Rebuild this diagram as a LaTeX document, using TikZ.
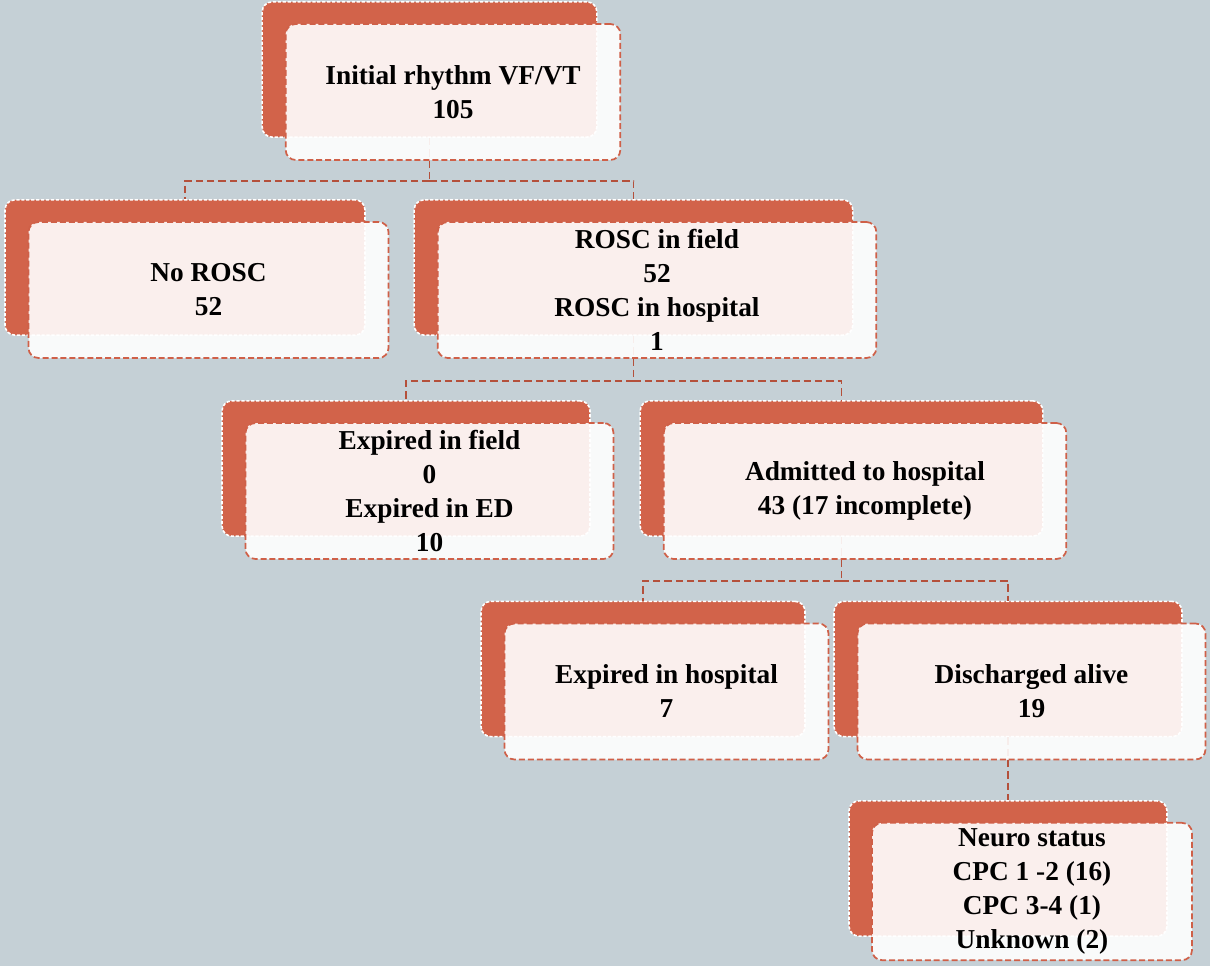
\documentclass[tikz,border=0pt]{standalone}
\usepackage{fontspec}
\setmainfont{Liberation Serif}
\usetikzlibrary{calc}
\definecolor{bgc}{HTML}{C5D0D6}
\definecolor{backc}{HTML}{D2634A}
\definecolor{edgec}{HTML}{CF6048}
\definecolor{connc}{HTML}{B4503B}
\tikzset{
  backbox/.style={draw=white, line width=1.2pt, dash pattern=on 2.4pt off 1.3pt, fill=backc, rounded corners=7.5pt, minimum height=101.5pt, inner sep=0pt},
  frontbox/.style={draw=edgec, line width=1.3pt, dash pattern=on 4.5pt off 2.2pt, fill=white, fill opacity=0.9, text opacity=1, rounded corners=7.5pt, minimum height=102pt, inner sep=0pt, align=center, font=\bfseries\fontsize{20.5}{25.5}\selectfont},
  conn/.style={draw=connc, line width=1.4pt, dash pattern=on 5.5pt off 3pt},
}
\begin{document}
\begin{tikzpicture}[x=0.75pt,y=-0.75pt]
\useasboundingbox[fill=bgc] (0,0) rectangle (1210,966);
% back boxes
\node[backbox, minimum width=251pt] (b1) at (429.5,69.5) {};
\node[backbox, minimum width=270pt] (b2) at (185,267.5) {};
\node[backbox, minimum width=329pt] (b3) at (633.5,267.5) {};
\node[backbox, minimum width=276pt] (b4) at (406,468.5) {};
\node[backbox, minimum width=302pt] (b5) at (841.5,468.5) {};
\node[backbox, minimum width=243pt] (b6) at (643,669) {};
\node[backbox, minimum width=261pt] (b7) at (1008,669) {};
\node[backbox, minimum width=238.5pt] (b8) at (1008,868.5) {};
% connectors
\draw[conn] (b1.south) -- ++(0,43) coordinate (j1);
\draw[conn] (j1) -| (b2.north);
\draw[conn] (j1) -| (b3.north);
\draw[conn] (b3.south) -- ++(0,45) coordinate (j2);
\draw[conn] (j2) -| (b4.north);
\draw[conn] (j2) -| (b5.north);
\draw[conn] (b5.south) -- ++(0,44) coordinate (j3);
\draw[conn] (j3) -| (b6.north);
\draw[conn] (j3) -| (b7.north);
\draw[conn] (b7.south) -- (b8.north);
% front boxes
\node[frontbox, minimum width=251pt] (f1) at ($(b1)+(23.5,22.5)$) {Initial rhythm VF/VT\\105};
\node[frontbox, minimum width=270pt] (f2) at ($(b2)+(23.5,22.5)$) {No ROSC\\52};
\node[frontbox, minimum width=329pt] (f3) at ($(b3)+(23.5,22.5)$) {ROSC in field\\52\\ROSC in hospital\\1};
\node[frontbox, minimum width=276pt] (f4) at ($(b4)+(23.5,22.5)$) {Expired in field\\0\\Expired in ED\\10};
\node[frontbox, minimum width=302pt] (f5) at ($(b5)+(23.5,22.5)$) {Admitted to hospital\\43 (17 incomplete)};
\node[frontbox, minimum width=243pt] (f6) at ($(b6)+(23.5,22.5)$) {Expired in hospital\\7};
\node[frontbox, minimum width=261pt] (f7) at ($(b7)+(23.5,22.5)$) {Discharged alive\\19};
\node[frontbox, minimum width=240pt, minimum height=103pt] (f8) at ($(b8)+(24,23)$) {Neuro status\\CPC 1 -2 (16)\\CPC 3-4 (1)\\Unknown (2)};
\end{tikzpicture}
\end{document}
